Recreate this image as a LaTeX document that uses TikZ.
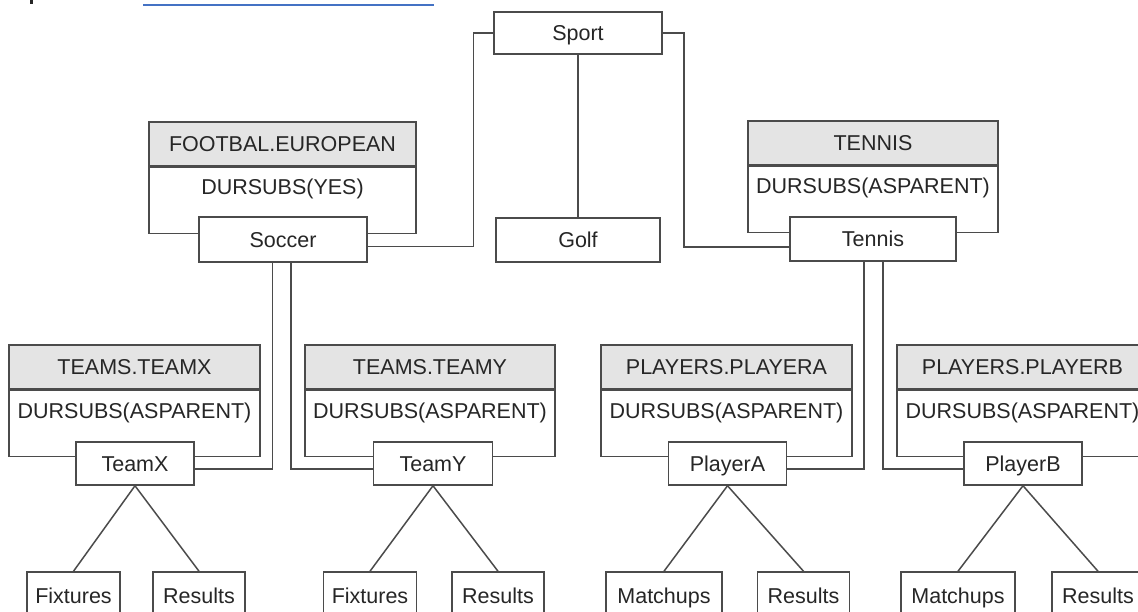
\documentclass[tikz,border=0pt]{standalone}
\usepackage{fontspec}
\setmainfont{Liberation Sans}
\definecolor{linkblue}{RGB}{68,114,196}
\definecolor{edge}{RGB}{75,75,75}
\definecolor{headfill}{RGB}{228,228,228}
\begin{document}
\begin{tikzpicture}[x=1pt,y=-1pt,
  every node/.style={font=\fontsize{21.5}{26}\selectfont, text=black!85,
    inner sep=0pt, text height=15.5pt, text depth=0pt},
  namebox/.style={draw=edge, line width=1.5pt, fill=white, minimum height=44pt},
  leafbox/.style={draw=edge, line width=1.5pt, fill=white, minimum height=47pt},
  headbox/.style={draw=edge, line width=1.5pt, fill=headfill, minimum height=44pt},
  attrbox/.style={draw=edge, line width=1.5pt, fill=white, anchor=north, minimum height=66pt},
  link/.style={draw=edge, line width=1.5pt},
  weblink/.style={draw=linkblue, line width=1.5pt}]
\useasboundingbox (0,0) rectangle (1138,612);
\clip (0,0) rectangle (1138,612);

% fragments along the top edge
\fill[black!85] (30,0) rectangle (32.5,4.5);
\draw[weblink] (143,5) -- (434,5);

% ---- topic attribute boxes (header + DURSUBS body) ----
\node[headbox, minimum width=267pt] (feh) at (282.5,144) {FOOTBAL.EUROPEAN};
\node[attrbox, minimum width=267pt] (feb) at (feh.south) {};
\node (fet) at ([yshift=-20.5pt]feh.south) {DURSUBS(YES)};

\node[headbox, minimum width=250pt] (tnh) at (873,143) {TENNIS};
\node[attrbox, minimum width=250pt] (tnb) at (tnh.south) {};
\node (tnt) at ([yshift=-20.5pt]tnh.south) {DURSUBS(ASPARENT)};

\node[headbox, minimum width=251pt] (txh) at (134.5,367) {TEAMS.TEAMX};
\node[attrbox, minimum width=251pt] (txb) at (txh.south) {};
\node (txt) at ([yshift=-20.5pt]txh.south) {DURSUBS(ASPARENT)};

\node[headbox, minimum width=250pt] (tyh) at (430,367) {TEAMS.TEAMY};
\node[attrbox, minimum width=250pt] (tyb) at (tyh.south) {};
\node (tyt) at ([yshift=-20.5pt]tyh.south) {DURSUBS(ASPARENT)};

\node[headbox, minimum width=251pt] (pah) at (726.5,367) {PLAYERS.PLAYERA};
\node[attrbox, minimum width=251pt] (pab) at (pah.south) {};
\node (pat) at ([yshift=-20.5pt]pah.south) {DURSUBS(ASPARENT)};

\node[headbox, minimum width=251pt] (pbh) at (1022.5,367) {PLAYERS.PLAYERB};
\node[attrbox, minimum width=251pt] (pbb) at (pbh.south) {};
\node (pbt) at ([yshift=-20.5pt]pbh.south) {DURSUBS(ASPARENT)};

% ---- topic tree nodes ----
\node[namebox, minimum width=168pt, minimum height=42pt] (sport) at (578,33) {Sport};
\node[namebox, minimum width=168pt, minimum height=45pt] (soccer) at (283,239.5) {Soccer};
\node[namebox, minimum width=164pt] (golf) at (578,240) {Golf};
\node[namebox, minimum width=166pt] (tennis) at (873,239) {Tennis};

\node[namebox, minimum width=118pt, minimum height=43pt] (teamx) at (135,463.5) {TeamX};
\node[namebox, minimum width=119pt, minimum height=43pt] (teamy) at (433,463.5) {TeamY};
\node[namebox, minimum width=118pt, minimum height=43pt] (playera) at (727.5,463.5) {PlayerA};
\node[namebox, minimum width=118pt, minimum height=43pt] (playerb) at (1023,463.5) {PlayerB};

\node[leafbox, minimum width=93pt] (fix1) at (73.5,595.5) {Fixtures};
\node[leafbox, minimum width=92pt] (res1) at (199,595.5) {Results};
\node[leafbox, minimum width=93pt] (fix2) at (370,595.5) {Fixtures};
\node[leafbox, minimum width=92pt] (res2) at (498,595.5) {Results};
\node[leafbox, minimum width=116pt] (mat1) at (664,595.5) {Matchups};
\node[leafbox, minimum width=92pt] (res3) at (803.5,595.5) {Results};
\node[leafbox, minimum width=114pt] (mat2) at (958,595.5) {Matchups};
\node[leafbox, minimum width=92pt] (res4) at (1098,595.5) {Results};

% ---- connectors ----
\draw[link] (sport.west) -- ++(-20,0) |- ([yshift=-7pt]soccer.east);
\draw[link] (sport.south) -- (golf.north);
\draw[link] (sport.east) -- ++(21,0) |- ([yshift=-8pt]tennis.west);

\draw[link] ([xshift=-10.5pt]soccer.south) |- ([yshift=-5.5pt]teamx.east);
\draw[link] ([xshift=8pt]soccer.south) |- ([yshift=-5.5pt]teamy.west);
\draw[link] ([xshift=-9pt]tennis.south) |- ([yshift=-5.5pt]playera.east);
\draw[link] ([xshift=10pt]tennis.south) |- ([yshift=-5.5pt]playerb.west);

\draw[link] (teamx.south) -- (fix1.north);
\draw[link] (teamx.south) -- (res1.north);
\draw[link] (teamy.south) -- (fix2.north);
\draw[link] (teamy.south) -- (res2.north);
\draw[link] (playera.south) -- (mat1.north);
\draw[link] (playera.south) -- (res3.north);
\draw[link] (playerb.south) -- (mat2.north);
\draw[link] (playerb.south) -- (res4.north);
\end{tikzpicture}
\end{document}
